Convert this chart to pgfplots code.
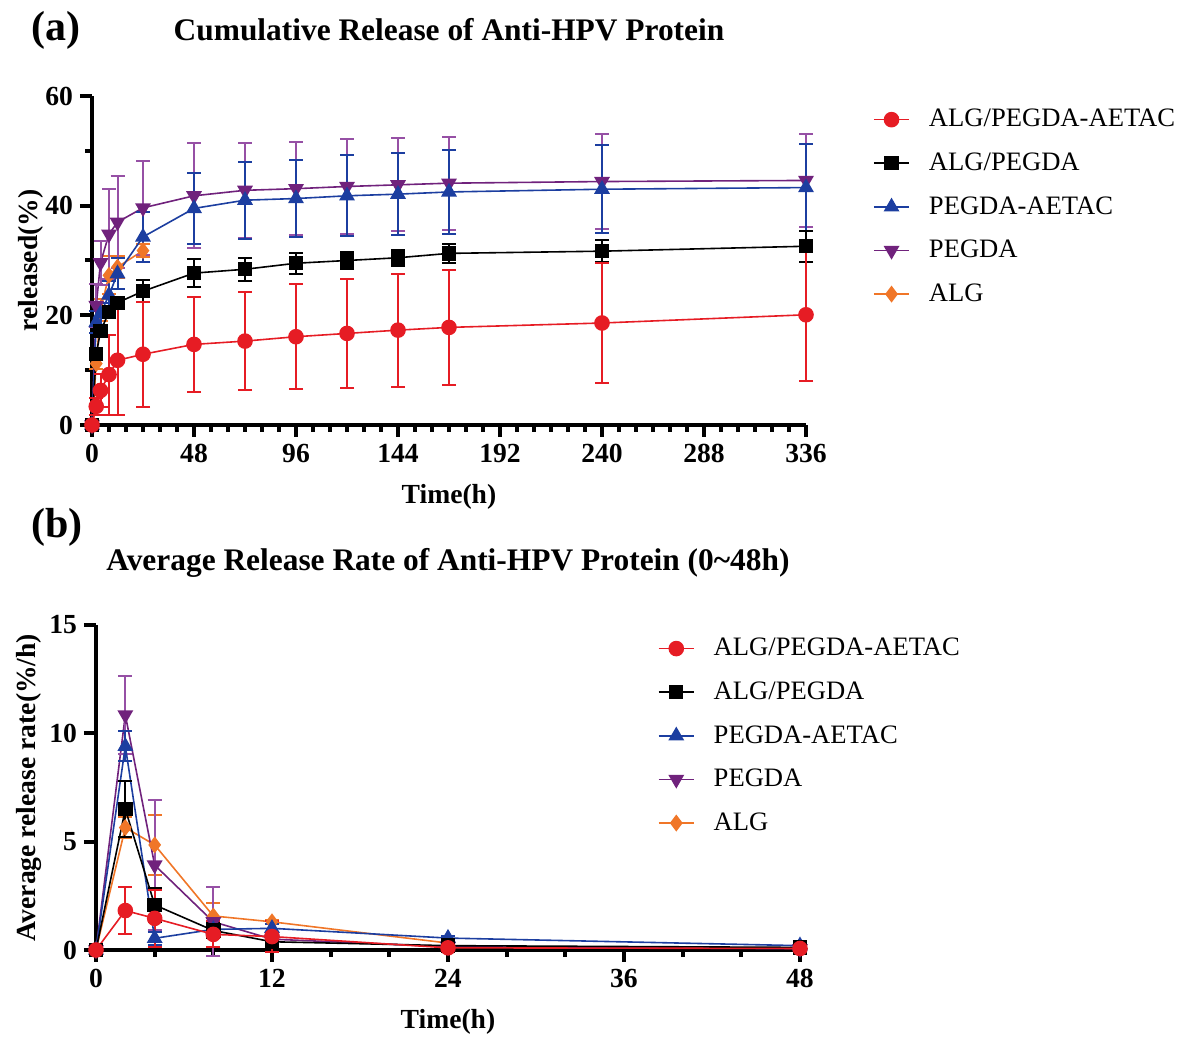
\documentclass[border=0pt]{standalone}
\usepackage{fontspec}
\setmainfont{Liberation Serif}
\usepackage{pgfplots}
\usepackage{pgfplotstable}
\pgfplotsset{compat=1.18}

\definecolor{cRed}{RGB}{230,28,36}
\definecolor{cBlue}{RGB}{28,62,160}
\definecolor{cPurple}{RGB}{112,34,124}
\definecolor{cPurpleL}{RGB}{150,80,165}
\definecolor{cOrange}{RGB}{240,118,40}

% cumulative release (%), mean and SD
\pgfplotstableread{
t y e
0 0 0
2 3.4 1.5
4 6.3 3
8 9.2 7.3
12 11.8 10
24 12.9 9.6
48 14.7 8.7
72 15.3 9
96 16.1 9.6
120 16.7 10
144 17.3 10.3
168 17.8 10.5
240 18.6 11
336 20.1 12
}\aRed
\pgfplotstableread{
t y e
0 0 0
2 12.9 1
4 17.1 1
8 20.6 1
12 22.3 1
24 24.4 2
48 27.7 2.6
72 28.4 2.1
96 29.5 1.9
120 30.0 1.6
144 30.5 1.5
168 31.3 1.7
240 31.7 2
336 32.6 2.8
}\aBlack
\pgfplotstableread{
t y e
0 0 0
2 18.7 2
4 20.3 2
8 23.7 2.5
12 27.6 2.8
24 34.3 4.5
48 39.5 6.5
72 41.0 7
96 41.3 7.1
120 41.8 7.4
144 42.1 7.5
168 42.5 7.6
240 43.0 8
336 43.3 7.9
}\aBlue
\pgfplotstableread{
t y e
0 0 0
2 21.8 4
4 29.6 4
8 34.8 8.2
12 37.0 8.4
24 39.6 8.6
48 41.8 9.6
72 42.8 8.7
96 43.1 8.5
120 43.5 8.6
144 43.8 8.5
168 44.1 8.5
240 44.4 8.6
336 44.6 8.4
}\aPurple
\pgfplotstableread{
t y e
0 0 0
2 11.2 1
4 21.0 2
8 27.3 3.5
12 28.8 2
24 31.8 1.2
}\aOrange

% average release rate (%/h)
\pgfplotstableread{
t y e
0 0 0
2 1.82 1.1
4 1.46 1.3
8 0.72 0.6
12 0.62 0.7
24 0.10 0.1
48 0.07 0.05
}\bRed
\pgfplotstableread{
t y e
0 0 0
2 6.5 1.3
4 2.08 0.8
8 0.90 0.35
12 0.38 0.1
24 0.20 0.05
48 0.12 0.05
}\bBlack
\pgfplotstableread{
t y e
0 0 0
2 9.4 0.7
4 0.54 0.3
8 0.95 0.3
12 1.0 0.2
24 0.55 0.1
48 0.20 0.05
}\bBlue
\pgfplotstableread{
t y e
0 0 0
2 10.85 1.8
4 3.92 3.0
8 1.30 1.6
12 0.50 0.3
24 0.15 0.1
48 0.06 0.05
}\bPurple
\pgfplotstableread{
t y e
0 0 0
2 5.65 0.5
4 4.85 1.4
8 1.57 0.6
12 1.30 0.1
24 0.32 0.1
}\bOrange

\pgfplotsset{
  relstyle/.style={
    scale only axis, clip=false, anchor=south west,
    axis x line*=bottom, axis y line*=left,
    axis line style={line width=2.3pt},
    tick align=outside,
    major tick length=6pt, minor tick length=3.5pt,
    tick style={black, line width=2pt},
    ticklabel style={font=\bfseries\fontsize{13.8}{16}\selectfont},
    /pgf/number format/assume math mode=true,
    every axis title/.style={at={(axis description cs:0.5,1)}, anchor=center, yshift=33pt,
      font=\bfseries\fontsize{15.7}{18}\selectfont},
    every axis x label/.style={at={(axis description cs:0.5,0)}, anchor=center, yshift=-36pt,
      font=\bfseries\fontsize{13.8}{16}\selectfont},
    every axis y label/.style={at={(axis description cs:0,0.5)}, anchor=center, rotate=90,
      font=\bfseries\fontsize{13.8}{16}\selectfont},
    legend style={draw=none, fill=none, font=\fontsize{13.3}{16}\selectfont,
      row sep=7.5pt, column sep=7.5pt, cells={anchor=west}},
    legend image code/.code={\draw[mark repeat=2,mark phase=2]
      plot coordinates {(0cm,0cm) (0.31cm,0cm) (0.62cm,0cm)};},
    legend cell align=left, reverse legend,
  },
  ser/.style 2 args={#1, line width=0.8pt, mark options={solid, fill=#1, draw=#1},
    error bars/y dir=both, error bars/y explicit,
    error bars/error bar style={#2, line width=1pt},
    error bars/error mark options={rotate=90, #2, mark size=3.5pt, line width=1pt}},
  down/.style={/tikz/every mark/.append style={rotate=180}},
}

\begin{document}
\begin{tikzpicture}
\path[use as bounding box] (0,0) rectangle (592.5pt,519.5pt);

\node[anchor=west, font=\bfseries\fontsize{21}{24}\selectfont] at (12pt,504.5pt) {(a)};
\node[anchor=west, font=\bfseries\fontsize{21}{24}\selectfont] at (12pt,256pt) {(b)};

\begin{axis}[relstyle, at={(46pt,307pt)}, width=357pt, height=164.5pt,
  xmin=0, xmax=336, ymin=0, ymax=60,
  xtick={0,48,...,336}, minor x tick num=5,
  ytick={0,20,40,60}, minor y tick num=1,
  title={Cumulative Release of Anti-HPV Protein},
  xlabel={Time(h)}, ylabel={released(\%)},
  ylabel style={at={(axis description cs:-0.085,0.5)}},
  legend style={at={(1.085,0.985)}, anchor=north west}]
\addplot[ser={cOrange}{cOrange}, mark=diamond*, mark size=3.6pt] table[x=t,y=y,y error=e]{\aOrange};
\addlegendentry{ALG}
\addplot[ser={cPurple}{cPurpleL}, down, mark=triangle*, mark size=3.8pt] table[x=t,y=y,y error=e]{\aPurple};
\addlegendentry{PEGDA}
\addplot[ser={cBlue}{cBlue}, mark=triangle*, mark size=3.8pt] table[x=t,y=y,y error=e]{\aBlue};
\addlegendentry{PEGDA-AETAC}
\addplot[ser={black}{black}, mark=square*, mark size=3.2pt] table[x=t,y=y,y error=e]{\aBlack};
\addlegendentry{ALG/PEGDA}
\addplot[ser={cRed}{cRed}, mark=*, mark size=3.5pt] table[x=t,y=y,y error=e]{\aRed};
\addlegendentry{ALG/PEGDA-AETAC}
\end{axis}

\begin{axis}[relstyle, at={(48pt,44.5pt)}, width=352pt, height=162.5pt,
  xmin=0, xmax=48, ymin=0, ymax=15,
  xtick={0,12,...,48}, minor x tick num=2,
  ytick={0,5,10,15},
  title={Average Release Rate of Anti-HPV Protein (0\textasciitilde48h)},
  title style={yshift=-2pt},
  xlabel={Time(h)}, ylabel={Average release rate(\%/h)},
  ylabel style={at={(axis description cs:-0.095,0.5)}},
  legend style={at={(0.789,0.985)}, anchor=north west}]
\addplot[ser={cOrange}{cOrange}, mark=diamond*, mark size=3.6pt] table[x=t,y=y,y error=e]{\bOrange};
\addlegendentry{ALG}
\addplot[ser={cPurple}{cPurpleL}, down, mark=triangle*, mark size=3.8pt] table[x=t,y=y,y error=e]{\bPurple};
\addlegendentry{PEGDA}
\addplot[ser={cBlue}{cBlue}, mark=triangle*, mark size=3.8pt] table[x=t,y=y,y error=e]{\bBlue};
\addlegendentry{PEGDA-AETAC}
\addplot[ser={black}{black}, mark=square*, mark size=3.2pt] table[x=t,y=y,y error=e]{\bBlack};
\addlegendentry{ALG/PEGDA}
\addplot[ser={cRed}{cRed}, mark=*, mark size=3.5pt] table[x=t,y=y,y error=e]{\bRed};
\addlegendentry{ALG/PEGDA-AETAC}
\end{axis}
\end{tikzpicture}
\end{document}
